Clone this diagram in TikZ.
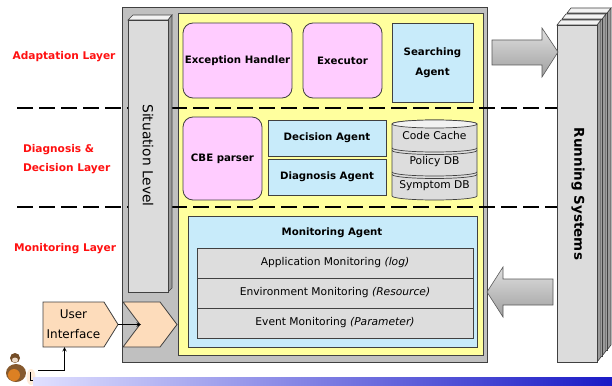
\documentclass[tikz,border=0pt]{standalone}
\usepackage{fontspec}
\setmainfont{DejaVu Sans}
\usetikzlibrary{shapes.symbols}

\definecolor{framegray}{HTML}{C0C0C0}
\definecolor{panelyellow}{HTML}{FFFF9E}
\definecolor{pinkfill}{HTML}{FFCCFF}
\definecolor{bluefill}{HTML}{C8EBFA}
\definecolor{rowgray}{HTML}{DDDDDD}
\definecolor{barfront}{HTML}{DCDCDC}
\definecolor{bartop}{HTML}{F2F2F2}
\definecolor{barside}{HTML}{9A9A9A}
\definecolor{peach}{HTML}{FDDCBB}
\definecolor{edge}{HTML}{404040}
\definecolor{layerred}{HTML}{FF1010}

\tikzset{
  every node/.style={inner sep=0pt, outer sep=0pt},
  boldtxt/.style={font=\bfseries\fontsize{10.2}{12}\selectfont},
  plaintxt/.style={font=\fontsize{10.7}{12}\selectfont},
  pinkbox/.style={boldtxt, draw=edge, line width=0.8pt, fill=pinkfill, rounded corners=10pt},
  bluebox/.style={boldtxt, draw=edge, line width=0.8pt, fill=bluefill},
  rowbox/.style={plaintxt, draw=edge, line width=0.8pt, fill=rowgray,
                 minimum width=276pt, minimum height=30pt},
  layerlabel/.style={font=\bfseries\fontsize{10.6}{19}\selectfont, text=layerred},
  layerline/.style={line width=1.6pt, dash pattern=on 16pt off 6pt},
  peachshape/.style={draw=edge, line width=0.8pt, fill=peach},
  bigarrow/.style={draw=gray!70!black, line width=0.6pt, top color=gray!25, bottom color=gray!75},
}

\begin{document}
\begin{tikzpicture}[x=1pt, y=-1pt]
\useasboundingbox (0,0) rectangle (612,385);

% outer frame and the yellow working panel
\path[draw=edge, line width=0.8pt, fill=framegray] (122,7) rectangle (487,362);
\path[draw=edge, line width=0.8pt, fill=panelyellow] (178,13) rectangle (483,355);

% layer boundaries
\coordinate (l1a) at (17,108);  \coordinate (l1b) at (557,108);
\coordinate (l2a) at (17,207);  \coordinate (l2b) at (557,207);
\draw[layerline] (l1a) -- (l1b);
\draw[layerline] (l2a) -- (l2b);

% layer names
\node[layerlabel] (adapt) at (64,57) {Adaptation Layer};
\node[layerlabel, anchor=west, align=left] (diag) at (23,159.5) {Diagnosis \&\\Decision Layer};
\node[layerlabel] (monit) at (65,249) {Monitoring Layer};

% situation level bar (3-D slab)
\path[draw=edge, line width=0.6pt, fill=bartop] (128,20) -- (133,15) -- (172,15) -- (168,20) -- cycle;
\path[draw=edge, line width=0.6pt, fill=barside] (168,20) -- (172,15) -- (172,288) -- (168,292) -- cycle;
\path[draw=edge, line width=0.6pt, fill=barfront] (128,20) rectangle (168,292);
\node[font=\fontsize{13.8}{15}\selectfont, rotate=-90] (situation) at (148,155.5) {Situation Level};

% adaptation layer components
\node[pinkbox, minimum width=109pt, minimum height=75pt] (exc) at (237.5,60.5) {Exception Handler};
\node[pinkbox, minimum width=79pt, minimum height=75pt] (execu) at (342.5,60.5) {Executor};
\node[bluebox, minimum width=81pt, minimum height=79pt, align=center,
      font=\bfseries\fontsize{10.2}{19}\selectfont] (search) at (432.5,62.5) {Searching\\[1pt]Agent};

% diagnosis & decision components
\node[pinkbox, minimum width=79pt, minimum height=83pt] (cbe) at (222.5,158.5) {CBE parser};
\node[bluebox, minimum width=118pt, minimum height=36pt] (decision) at (327,138) {Decision Agent};
\node[bluebox, minimum width=118pt, minimum height=36pt] (diagnosis) at (327,177) {Diagnosis Agent};

% stacked data stores
\path[draw=edge, line width=0.7pt, fill=rowgray]
  (392,124) -- (392,196) arc[start angle=180, end angle=0, x radius=42.5, y radius=4]
  -- (477,124) arc[start angle=0, end angle=-180, x radius=42.5, y radius=4] -- cycle;
\path[draw=edge, line width=0.7pt, fill=bartop] (434.5,124) ellipse [x radius=42.5, y radius=4];
\draw[edge, line width=0.7pt] (392,148) arc[start angle=180, end angle=0, x radius=42.5, y radius=4];
\draw[edge, line width=0.7pt] (392,150.5) arc[start angle=180, end angle=0, x radius=42.5, y radius=4];
\draw[edge, line width=0.7pt] (392,172) arc[start angle=180, end angle=0, x radius=42.5, y radius=4];
\draw[edge, line width=0.7pt] (392,174.5) arc[start angle=180, end angle=0, x radius=42.5, y radius=4];
\node[plaintxt] (codecache) at (434.5,136) {Code Cache};
\node[plaintxt] (policy) at (434.5,161.5) {Policy DB};
\node[plaintxt] (symptom) at (434.5,186) {Symptom DB};

% monitoring layer
\path[draw=edge, line width=0.8pt, fill=bluefill] (188,216) rectangle (477,347);
\node[boldtxt] (magent) at (332,233) {Monitoring Agent};
\node[rowbox] (appmon) at (335,263) {Application Monitoring \textit{(log)}};
\node[rowbox] (envmon) at (335,293) {Environment Monitoring \textit{(Resource)}};
\node[rowbox] (evtmon) at (335,323) {Event Monitoring \textit{(Parameter)}};

% running systems (stack of three slabs)
\foreach \dx/\dy in {10/-12, 5/-6, 0/0} {
  \path[draw=edge, line width=0.6pt, fill=barside]
    (597+\dx,25+\dy) -- (601+\dx,20+\dy) -- (601+\dx,357+\dy) -- (597+\dx,362+\dy) -- cycle;
  \path[draw=edge, line width=0.6pt, fill=bartop]
    (557+\dx,25+\dy) -- (561+\dx,20+\dy) -- (601+\dx,20+\dy) -- (597+\dx,25+\dy) -- cycle;
  \path[draw=edge, line width=0.6pt, fill=barfront] (557+\dx,25+\dy) rectangle (597+\dx,362+\dy);
}
\node[font=\bfseries\fontsize{13.5}{15}\selectfont, rotate=-90] (running) at (578,194) {Running Systems};

% wide flow arrows between the system and the running systems
\path[bigarrow] (492,40) -- (542,40) -- (542,28) -- (558,52) -- (542,77) -- (542,65) -- (492,65) -- cycle;
\path[bigarrow] (553,279) -- (503,279) -- (503,267) -- (487,292) -- (503,317) -- (503,305) -- (553,305) -- cycle;

% user interface and entry gate
\node[peachshape, signal, signal to=east, signal pointer angle=116,
      minimum width=75pt, minimum height=45pt, align=center,
      font=\fontsize{12}{20}\selectfont] (ui) at (73.5,324.5) {User\\Interface};
\node[peachshape, signal, signal from=west, signal to=east, signal pointer angle=106,
      minimum width=54pt, minimum height=45pt] (gate) at (150,324.5) {};
\draw[-stealth, line width=1pt] (ui.east) -- ([xshift=-9pt]gate.center);

% user figure
\coordinate (user) at (38,370);
\fill[brown!70!black] (16,373) ellipse [x radius=10, y radius=9];
\fill[brown!55!orange] (14,375) ellipse [x radius=6, y radius=6];
\fill[brown!60!black] (15,358) ellipse [x radius=5, y radius=5];
\fill[white!70!brown] (15,360) ellipse [x radius=3, y radius=2.5];
\fill[orange!15!white] (31,377) ellipse [x radius=4.5, y radius=8];
\draw[black, line width=0.6pt] (30,372) -- (30,380) -- (34,380);
\draw[-stealth, line width=1pt] (user) -| ([xshift=-9pt]ui.south);

% footer rule
\shade[left color=blue!12, right color=blue!75!black!90] (33,377) rectangle (612,385);
\end{tikzpicture}
\end{document}
